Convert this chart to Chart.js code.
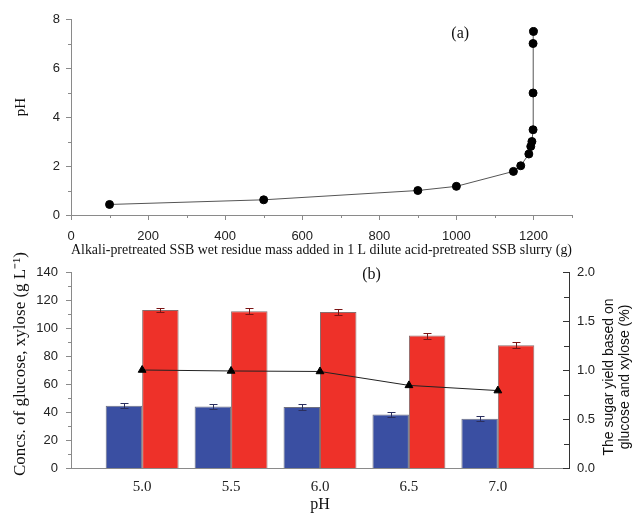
<!DOCTYPE html>
<html>
<head>
<meta charset="utf-8">
<script src="https://cdn.jsdelivr.net/npm/chart.js@4.4.0/dist/chart.umd.min.js"></script>
<style>
  html, body { margin: 0; padding: 0; background: #fff; }
  #wrap { position: relative; width: 636px; height: 515px; }
  .box { position: absolute; left: 0; width: 636px; }
</style>
</head>
<body>
<div id="wrap">
  <div class="box" style="top:0;height:262px"><canvas id="chartA"></canvas></div>
  <div class="box" style="top:240px;height:275px"><canvas id="chartB"></canvas></div>
</div>
<script>
// panel (a): pH vs alkali-pretreated residue added
const massAdded = [100, 500, 900, 1000, 1148, 1167, 1188, 1193, 1196, 1199, 1199, 1199, 1200];
const phMeasured = [0.43, 0.62, 1.0, 1.17, 1.78, 2.01, 2.49, 2.8, 3.0, 3.48, 4.98, 7.0, 7.49];
const massTicks = [0, 200, 400, 600, 800, 1000, 1200];
const phTicks = [0, 2, 4, 6, 8];

// panel (b): sugars and yield vs pH
const phValues = [5.0, 5.5, 6.0, 6.5, 7.0];
const glucose = [44.4, 43.9, 43.5, 38.2, 35.2];
const glucoseErr = [1.8, 2.0, 2.0, 2.0, 1.6];
const xylose = [112.9, 112.0, 111.5, 94.6, 87.7];
const xyloseErr = [1.6, 2.0, 2.0, 2.1, 2.2];
const sugarYield = [1.0, 0.99, 0.985, 0.843, 0.79];
const concTicks = [0, 20, 40, 60, 80, 100, 120, 140];
const yieldTicks = [0, 0.5, 1.0, 1.5, 2.0];

const sans = '"Liberation Sans", Arial, sans-serif';
const serif = '"Liberation Serif", "Times New Roman", serif';
Chart.defaults.font.family = sans;
Chart.defaults.color = '#222';
Chart.defaults.animation = false;
const axisGray = '#8a8a8a';

function fixTicks(list) {
    return (scale) => { scale.ticks = list.map(v => ({ value: v })); };
}
// fixed box sizes, and no extra label padding pushing the chart area
function fitTo(w, h) {
    return (s) => {
        if (w) s.width = w;
        if (h) s.height = h;
        s.paddingTop = 0; s.paddingBottom = 0; s.paddingLeft = 0; s.paddingRight = 0;
    };
}

// tick marks (major + minor) drawn from the scales
const tickMarks = {
    id: 'tickMarks',
    afterDraw(chart, args, opts) {
        const ctx = chart.ctx;
        ctx.save();
        ctx.lineWidth = 1;
        Object.keys(opts.scales || {}).forEach((id) => {
            const t = opts.scales[id];
            const s = chart.scales[id];
            const n = Math.round((s.max - s.min) / t.step);
            ctx.strokeStyle = t.color;
            ctx.beginPath();
            for (let i = 0; i <= n; i++) {
                const v = s.min + i * t.step;
                const k = v / t.majorStep;
                const len = Math.abs(k - Math.round(k)) < 1e-6 ? t.len : t.minorLen;
                const p = Math.round(s.getPixelForValue(v)) + 0.5;
                if (s.isHorizontal()) {
                    ctx.moveTo(p, s.top);
                    ctx.lineTo(p, s.top + len);
                } else {
                    const x0 = s.position === 'left' ? s.right : s.left;
                    ctx.moveTo(x0, p);
                    ctx.lineTo(x0 - len, p);
                }
            }
            ctx.stroke();
        });
        ctx.restore();
    }
};

// panel letter and rotated axis titles (drawn unsqueezed)
const panelText = {
    id: 'panelText',
    afterDraw(chart, args, opts) {
        const ctx = chart.ctx;
        const area = chart.chartArea;
        ctx.save();
        ctx.fillStyle = '#111';
        ctx.textAlign = 'center';
        ctx.textBaseline = 'middle';
        if (opts.letter) {
            const l = opts.letter;
            ctx.font = '16px ' + serif;
            ctx.fillText(l.text, chart.scales.x.getPixelForValue(l.x), chart.scales[l.axis].getPixelForValue(l.y));
        }
        (opts.sideTitles || []).forEach((r) => {
            const s = chart.scales[r.axis];
            const cy = (area.top + area.bottom) / 2 + r.shiftY;
            ctx.font = r.font;
            r.lines.forEach((line, i) => {
                ctx.save();
                ctx.translate(s.left + r.offsetX + i * r.lineGap, cy);
                ctx.rotate(-Math.PI / 2);
                ctx.fillText(line, 0, 0);
                ctx.restore();
            });
        });
        ctx.restore();
    }
};

// error bars for the two bar series
const errorBars = {
    id: 'errorBars',
    afterDatasetsDraw(chart, args, opts) {
        const ctx = chart.ctx;
        const yScale = chart.scales.y;
        ctx.save();
        ctx.lineWidth = 1;
        opts.sets.forEach((set) => {
            const meta = chart.getDatasetMeta(set.index);
            const values = chart.data.datasets[set.index].data;
            ctx.strokeStyle = set.color;
            ctx.beginPath();
            meta.data.forEach((bar, i) => {
                const x = Math.round(bar.x) + 0.5;
                const top = Math.round(yScale.getPixelForValue(values[i].y + set.err[i])) + 0.5;
                const bot = Math.round(yScale.getPixelForValue(values[i].y - set.err[i])) + 0.5;
                ctx.moveTo(x, top); ctx.lineTo(x, bot);
                ctx.moveTo(x - 4, top); ctx.lineTo(x + 4, top);
                ctx.moveTo(x - 4, bot); ctx.lineTo(x + 4, bot);
            });
            ctx.stroke();
        });
        ctx.restore();
    }
};

const noGrid = { display: false, drawTicks: false };

new Chart(document.getElementById('chartA'), {
    type: 'line',
    data: {
        datasets: [{
            data: massAdded.map((m, i) => ({ x: m, y: phMeasured[i] })),
            borderColor: '#555',
            borderWidth: 1,
            pointRadius: 4,
            pointBackgroundColor: '#000',
            pointBorderColor: '#000',
            tension: 0
        }]
    },
    options: {
        responsive: true,
        maintainAspectRatio: false,
        layout: { padding: { top: 19, right: 64, bottom: 0, left: 0 } },
        plugins: {
            legend: { display: false },
            tooltip: { enabled: false },
            tickMarks: {
                scales: {
                    x: { step: 100, majorStep: 200, len: 5, minorLen: 3, color: axisGray },
                    y: { step: 1, majorStep: 2, len: 5, minorLen: 3, color: axisGray }
                }
            },
            panelText: {
                letter: { text: '(a)', x: 1010, y: 7.4, axis: 'y' },
                sideTitles: [
                    { axis: 'y', lines: ['pH'], font: '15px ' + serif, offsetX: 21, lineGap: 0, shiftY: -10 }
                ]
            }
        },
        scales: {
            x: {
                type: 'linear', min: 0, max: 1300,
                afterBuildTicks: fixTicks(massTicks),
                afterFit: fitTo(0, 47),
                grid: noGrid,
                border: { color: axisGray },
                ticks: { padding: 14, font: { family: sans, size: 13 }, maxRotation: 0, callback: (v) => String(v) },
                title: {
                    display: true,
                    text: 'Alkali-pretreated SSB wet residue mass added in 1 L dilute acid-pretreated SSB slurry (g)',
                    font: { family: serif, size: 14 }, color: '#111',
                    padding: { top: 0, bottom: 3 }
                }
            },
            y: {
                min: 0, max: 8,
                afterBuildTicks: fixTicks(phTicks),
                afterFit: fitTo(71, 0),
                grid: noGrid,
                border: { color: axisGray },
                ticks: { padding: 11, font: { family: sans, size: 13 } }
            }
        }
    },
    plugins: [tickMarks, panelText]
});

new Chart(document.getElementById('chartB'), {
    type: 'bar',
    data: {
        datasets: [
            {
                type: 'line',
                data: phValues.map((p, i) => ({ x: p, y: sugarYield[i] })),
                yAxisID: 'y1',
                borderColor: '#222',
                borderWidth: 1,
                pointStyle: 'triangle',
                pointRadius: 4.5,
                pointBackgroundColor: '#000',
                pointBorderColor: '#000',
                order: 0
            },
            {
                data: phValues.map((p, i) => ({ x: p, y: glucose[i] })),
                yAxisID: 'y',
                backgroundColor: '#3a4fa2',
                borderColor: '#6f7080',
                borderWidth: 1,
                categoryPercentage: 0.82,
                barPercentage: 1,
                order: 1
            },
            {
                data: phValues.map((p, i) => ({ x: p, y: xylose[i] })),
                yAxisID: 'y',
                backgroundColor: '#ee3129',
                borderColor: '#8a6d6d',
                borderWidth: 1,
                categoryPercentage: 0.82,
                barPercentage: 1,
                order: 1
            }
        ]
    },
    options: {
        responsive: true,
        maintainAspectRatio: false,
        layout: { padding: { top: 32, right: 0, bottom: 0, left: 0 } },
        plugins: {
            legend: { display: false },
            tooltip: { enabled: false },
            tickMarks: {
                scales: {
                    y: { step: 10, majorStep: 20, len: 5, minorLen: 3, color: axisGray },
                    y1: { step: 0.25, majorStep: 0.5, len: 6, minorLen: 5, color: '#333' }
                }
            },
            errorBars: {
                sets: [
                    { index: 1, err: glucoseErr, color: '#2b2f5e' },
                    { index: 2, err: xyloseErr, color: '#7a1414' }
                ]
            },
            panelText: {
                letter: { text: '(b)', x: 6.29, y: 137.8, axis: 'y' },
                sideTitles: [
                    {
                        axis: 'y',
                        lines: ['Concs. of glucose, xylose (g L\u207B\u00B9)'],
                        font: '17px ' + serif,
                        offsetX: 21, lineGap: 0, shiftY: -6
                    },
                    {
                        axis: 'y1',
                        lines: ['The sugar yield based on', 'glucose and xylose (%)'],
                        font: '14px ' + sans,
                        offsetX: 40, lineGap: 16, shiftY: 7
                    }
                ]
            }
        },
        scales: {
            x: {
                type: 'linear', min: 4.6, max: 7.4, offset: false,
                afterBuildTicks: fixTicks(phValues),
                afterFit: fitTo(0, 47),
                grid: noGrid,
                border: { color: axisGray },
                ticks: {
                    padding: 10, maxRotation: 0,
                    font: { family: serif, size: 15 },
                    callback: (v) => Number(v).toFixed(1)
                },
                title: {
                    display: true, text: 'pH',
                    font: { family: serif, size: 16 }, color: '#111',
                    padding: { top: 0, bottom: 1 }
                }
            },
            y: {
                position: 'left', min: 0, max: 140,
                afterBuildTicks: fixTicks(concTicks),
                afterFit: fitTo(71, 0),
                grid: noGrid,
                border: { color: axisGray },
                ticks: { padding: 13, font: { family: sans, size: 13 } }
            },
            y1: {
                position: 'right', min: 0, max: 2.0,
                afterBuildTicks: fixTicks(yieldTicks),
                afterFit: fitTo(67, 0),
                grid: noGrid,
                border: { color: '#333' },
                ticks: { padding: 8, font: { family: sans, size: 13 }, callback: (v) => Number(v).toFixed(1) }
            }
        }
    },
    plugins: [tickMarks, errorBars, panelText]
});
</script>
</body>
</html>
